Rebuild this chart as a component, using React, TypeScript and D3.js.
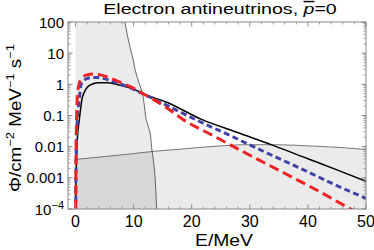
import * as d3 from "d3";

// frame of the plot, in px
const M = { left: 68, right: 366, top: 22, bottom: 209 };
const W = 374, H = 250;

// axis ticks
const X_TICKS = [0, 10, 20, 30, 40, 50];
const Y_TICKS = [100, 10, 1, 0.1, 0.01, 0.001, 0.0001];
const Y_LABELS = ["100", "10", "1", "0.1", "0.01", "0.001", "10|−4"];

// solid black spectrum
const E_BLACK = [0.01, 0.05, 0.2, 0.4, 0.65, 1.2, 2.4, 3.8, 5.5, 7, 9.8, 11.6, 15.6, 21.7, 28, 34, 40, 45, 50];
const F_BLACK = [1e-5, 4e-4, 0.007, 0.03, 0.075, 0.4, 0.93, 1.13, 1.12, 1.0, 0.73, 0.5, 0.27, 0.075, 0.028, 0.011, 0.0041, 0.0018, 0.00078];

// red long-dashed spectrum
const E_RED = [0.01, 0.05, 0.15, 0.38, 1.0, 2.1, 3.2, 4.1, 5.8, 7.8, 9.8, 11.8, 13.9, 15.3, 18.5, 24, 30, 36, 42, 48];
const F_RED = [1e-5, 8e-4, 0.05, 0.6, 1.5, 2.05, 2.15, 2.05, 1.64, 1.13, 0.78, 0.48, 0.29, 0.2, 0.075, 0.021, 0.0053, 0.0014, 3.6e-4, 8.5e-5];

// blue short-dashed spectrum
const E_BLUE = [0.01, 0.05, 0.2, 0.65, 0.95, 1.7, 2.7, 3.8, 4.7, 7, 9.3, 11.6, 13.9, 20.6, 27, 33, 39, 45, 50];
const F_BLUE = [1e-5, 6e-4, 0.03, 0.33, 1.0, 1.45, 1.64, 1.65, 1.55, 1.13, 0.78, 0.5, 0.31, 0.075, 0.021, 0.0062, 0.0019, 5.6e-4, 2.2e-4];

// steep boundary of the left shaded band
const E_WALL = [8.0, 8.5, 9.4, 9.9, 10.3, 11.0, 11.4, 11.95, 12.15, 12.8, 13.1, 13.45, 13.7, 13.85, 14.0];
const F_WALL = [1000, 100, 15, 6.4, 2.7, 1.0, 0.61, 0.14, 0.075, 0.03, 0.0093, 0.003, 0.001, 3e-4, 5e-5];

// thin background curve (lower shaded band)
const E_BG = [0, 5, 10, 13.5, 18, 24, 30, 35, 41, 46, 50];
const F_BG = [0.0039, 0.0048, 0.006, 0.0071, 0.0083, 0.0103, 0.0116, 0.0115, 0.0104, 0.0093, 0.0081];

const FONT = "'Liberation Sans', Arial, sans-serif";

export default function App() {
  const x = d3.scaleLinear().domain([-1.3, 50]).range([M.left, M.right]);
  const y = d3.scaleLog().domain([1e-4, 100]).range([M.bottom, M.top]);

  const pts = (es: number[], fs: number[]) => es.map((e, i) => [e, fs[i]] as [number, number]);
  const line = d3.line<[number, number]>().x((d) => x(d[0])).y((d) => y(d[1])).curve(d3.curveMonotoneX);
  const wallLine = d3.line<[number, number]>().x((d) => x(d[0])).y((d) => y(d[1])).curve(d3.curveMonotoneY);

  const wallPath = wallLine(pts(E_WALL, F_WALL)) || "";
  const lastE = E_WALL[E_WALL.length - 1];
  const leftBand =
    `M${x(0)},${y(1000)}L` + wallPath.slice(1) +
    `L${x(lastE)},${M.bottom + 20}L${x(0)},${M.bottom + 20}Z`;

  const bgArea = d3.area<[number, number]>()
    .x((d) => x(d[0])).y0(M.bottom + 20).y1((d) => y(d[1]))
    .curve(d3.curveMonotoneX);

  // minor ticks
  const xMinor = d3.range(0, 51, 2).filter((v) => v % 10 !== 0);
  const yMinor: number[] = [];
  for (let p = -4; p < 2; p++) for (let k = 2; k <= 9; k++) yMinor.push(k * Math.pow(10, p));

  const tickCol = "#888";

  return (
    <svg width={W} height={H} style={{ position: "absolute", left: 0, top: 0, background: "#fff" }}
      fontFamily={FONT}>
      <defs>
        <clipPath id="plot">
          <rect x={M.left} y={M.top} width={M.right - M.left} height={M.bottom - M.top} />
        </clipPath>
      </defs>

      <g clipPath="url(#plot)">
        <path d={leftBand} fill="#000" fillOpacity={0.08} />
        <path d={bgArea(pts(E_BG, F_BG)) || ""} fill="#000" fillOpacity={0.08} />
        <path d={wallPath} fill="none" stroke="#444" strokeWidth={0.8} />
        <path d={line(pts(E_BG, F_BG)) || ""} fill="none" stroke="#555" strokeWidth={0.8} />

        <path d={line(pts(E_BLACK, F_BLACK)) || ""} fill="none" stroke="#000" strokeWidth={1.5} />
        <path d={line(pts(E_BLUE, F_BLUE)) || ""} fill="none" stroke="#4343a6" strokeWidth={3}
          strokeDasharray="6,3.5" />
        <path d={line(pts(E_RED, F_RED)) || ""} fill="none" stroke="#ee2222" strokeWidth={3}
          strokeDasharray="10,5" />
      </g>

      {/* frame */}
      <rect x={M.left} y={M.top} width={M.right - M.left} height={M.bottom - M.top}
        fill="none" stroke={tickCol} strokeWidth={1} />

      {X_TICKS.map((t) => (
        <g key={"xt" + t}>
          <line x1={x(t)} x2={x(t)} y1={M.bottom} y2={M.bottom - 4.5} stroke={tickCol} />
          <line x1={x(t)} x2={x(t)} y1={M.top} y2={M.top + 4.5} stroke={tickCol} />
          <text x={x(t)} y={227} fontSize={16} textAnchor="middle">{t}</text>
        </g>
      ))}
      {xMinor.map((t) => (
        <g key={"xm" + t}>
          <line x1={x(t)} x2={x(t)} y1={M.bottom} y2={M.bottom - 2.5} stroke={tickCol} strokeWidth={0.8} />
          <line x1={x(t)} x2={x(t)} y1={M.top} y2={M.top + 2.5} stroke={tickCol} strokeWidth={0.8} />
        </g>
      ))}

      {Y_TICKS.map((t, i) => {
        const lab = Y_LABELS[i];
        const [base, sup] = lab.split("|");
        return (
          <g key={"yt" + t}>
            <line x1={M.left} x2={M.left + 4.5} y1={y(t)} y2={y(t)} stroke={tickCol} />
            <line x1={M.right} x2={M.right - 4.5} y1={y(t)} y2={y(t)} stroke={tickCol} />
            <text x={M.left - 4} y={y(t) + 5.5} fontSize={15} textAnchor="end">
              {base}
              {sup && <tspan fontSize={11} dy={-6}>{sup}</tspan>}
            </text>
          </g>
        );
      })}
      {yMinor.map((t) => (
        <g key={"ym" + t}>
          <line x1={M.left} x2={M.left + 2.5} y1={y(t)} y2={y(t)} stroke={tickCol} strokeWidth={0.8} />
          <line x1={M.right} x2={M.right - 2.5} y1={y(t)} y2={y(t)} stroke={tickCol} strokeWidth={0.8} />
        </g>
      ))}

      {/* labels */}
      <text x={224} y={246} fontSize={17} textAnchor="middle" textLength={58} lengthAdjust="spacingAndGlyphs">
        E/MeV
      </text>
      <text transform="translate(220,14) scale(1.4,1)" fontSize={14} textAnchor="middle">
        {"Electron antineutrinos, "}
        <tspan fontStyle="italic" textDecoration="overline">p</tspan>=0
      </text>
      <text transform="translate(21,118) rotate(-90)" fontSize={16} textAnchor="middle"
        textLength={148} lengthAdjust="spacingAndGlyphs">
        Φ/cm<tspan fontSize={11} dy={-7}>−2</tspan>
        <tspan dy={7}> MeV</tspan><tspan fontSize={11} dy={-7}>−1</tspan>
        <tspan dy={7}> s</tspan><tspan fontSize={11} dy={-7}>−1</tspan>
      </text>
    </svg>
  );
}
